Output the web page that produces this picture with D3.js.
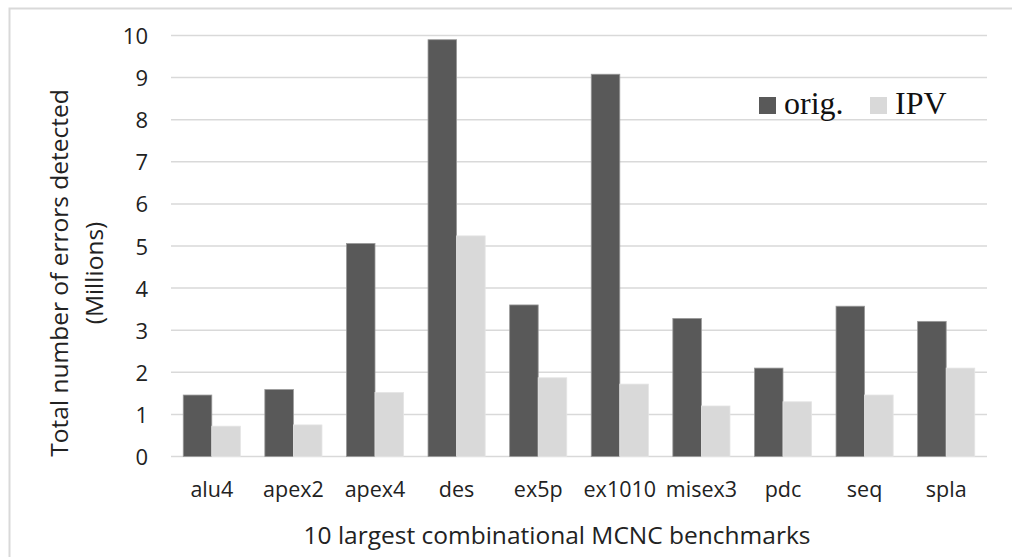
<!DOCTYPE html>
<html>
<head>
<meta charset="utf-8">
<script src="https://cdn.jsdelivr.net/npm/d3@7"></script>
<style>
  html, body { margin: 0; padding: 0; background: #fff; }
  svg { display: block; }
</style>
</head>
<body>
<script>
// Benchmarks and error counts (millions)
const benchmarks = ["alu4", "apex2", "apex4", "des", "ex5p", "ex1010", "misex3", "pdc", "seq", "spla"];
const origValues = [1.46, 1.59, 5.06, 9.9, 3.6, 9.08, 3.28, 2.1, 3.57, 3.21];
const ipvValues  = [0.72, 0.75, 1.52, 5.24, 1.87, 1.72, 1.2, 1.3, 1.46, 2.1];
const seriesNames = ["orig.", "IPV"];
const yTicks = [0, 1, 2, 3, 4, 5, 6, 7, 8, 9, 10];

const W = 1012, H = 557;
const margin = { left: 171, right: 25, top: 35.5, bottom: 100.5 };
const colors = { "orig.": "#595959", "IPV": "#d9d9d9" };
const sans = "'Open Sans', sans-serif";

const svg = d3.select("body").append("svg").attr("width", W).attr("height", H);

// chart frame
svg.append("rect")
  .attr("x", 9.5).attr("y", 8.5).attr("width", W + 20).attr("height", H + 20)
  .attr("fill", "none").attr("stroke", "#d9d9d9").attr("stroke-width", 2);

const x0 = d3.scaleBand().domain(benchmarks)
  .range([margin.left, W - margin.right]).paddingInner(0.3).paddingOuter(0.15);
const x1 = d3.scaleBand().domain(seriesNames).range([0, x0.bandwidth()]);
const y = d3.scaleLinear().domain([0, 10]).range([H - margin.bottom, margin.top]);

// horizontal gridlines
svg.append("g").selectAll("line").data(yTicks).join("line")
  .attr("x1", margin.left).attr("x2", W - margin.right)
  .attr("y1", d => y(d)).attr("y2", d => y(d))
  .attr("stroke", "#d9d9d9").attr("stroke-width", 1.5);

// y axis labels
const yAxis = d3.axisLeft(y).tickValues(yTicks).tickSize(0).tickPadding(0).tickFormat(d3.format("d"));
const gy = svg.append("g").attr("transform", `translate(148,1)`).call(yAxis);
gy.select(".domain").remove();
gy.selectAll("text").attr("font-family", sans).attr("font-size", 22).attr("fill", "#222");

// bars
const rows = benchmarks.map((b, i) => ({ b, vals: [ { s: "orig.", v: origValues[i] }, { s: "IPV", v: ipvValues[i] } ] }));
const groups = svg.append("g").selectAll("g").data(rows).join("g")
  .attr("transform", d => `translate(${x0(d.b)},0)`);
groups.selectAll("rect").data(d => d.vals).join("rect")
  .attr("x", d => x1(d.s))
  .attr("y", d => y(d.v))
  .attr("width", x1.bandwidth())
  .attr("height", d => y(0) - y(d.v))
  .attr("fill", d => colors[d.s])
  .attr("stroke", d => d.s === "orig." ? "#9a9a9a" : "#e4e4e4")
  .attr("stroke-width", 0.8);

// x axis labels
const xAxis = d3.axisBottom(x0).tickSize(0).tickPadding(0);
const gx = svg.append("g").attr("transform", `translate(0,${y(0) + 25})`).call(xAxis);
gx.select(".domain").remove();
gx.selectAll("text").attr("font-family", sans).attr("font-size", 21.5).attr("fill", "#222");

// axis titles
svg.append("text")
  .attr("x", 557).attr("y", 544)
  .attr("text-anchor", "middle")
  .attr("font-family", sans).attr("font-size", 24.5).attr("fill", "#222")
  .text("10 largest combinational MCNC benchmarks");

const yt = svg.append("text")
  .attr("transform", "translate(0,273) rotate(-90)")
  .attr("text-anchor", "middle")
  .attr("font-family", sans).attr("font-size", 24.5).attr("fill", "#222");
yt.append("tspan").attr("x", 0).attr("y", 68).text("Total number of errors detected");
yt.append("tspan").attr("x", 0).attr("y", 103).text("(Millions)");

// legend
const legend = svg.append("g").attr("transform", "translate(759,97)");
const legendX = [0, 111];
seriesNames.forEach((s, i) => {
  const g = legend.append("g").attr("transform", `translate(${legendX[i]},0)`);
  g.append("rect").attr("width", 17).attr("height", 17).attr("fill", colors[s]);
  g.append("text").attr("x", 25).attr("y", 17)
    .attr("font-family", "'Liberation Serif', 'Times New Roman', serif")
    .attr("font-size", 32).attr("fill", "#111").text(s);
});
</script>
</body>
</html>
